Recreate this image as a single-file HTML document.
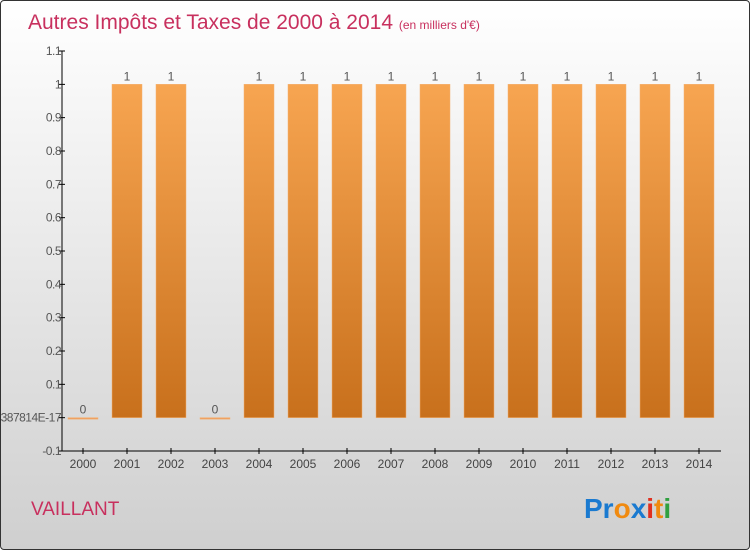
<!DOCTYPE html>
<html><head><meta charset="utf-8"><style>
body{margin:0;width:750px;height:550px;overflow:hidden;font-family:"Liberation Sans",sans-serif}
#frame{position:absolute;left:0;top:0;width:748px;height:548px;border:1px solid #333;border-radius:4px;background:linear-gradient(#ffffff,#cfcfcf);overflow:hidden}
</style></head><body>
<div id="frame">
<svg id="c" width="750" height="550">
<defs><linearGradient id="bg" x1="0" y1="0" x2="0" y2="1"><stop offset="0" stop-color="#f7a551"/><stop offset="1" stop-color="#c8701c"/></linearGradient></defs>
<text x="27" y="28" font-size="21" fill="#c8305e" style="font-weight:300">Autres Impôts et Taxes de 2000 à 2014 <tspan font-size="12">(en milliers d'€)</tspan></text>
<text x="30" y="514" font-size="19" fill="#c8305e">VAILLANT</text>
<text x="583" y="517" font-size="28" font-weight="bold"><tspan fill="#1a7ad0">Pr</tspan><tspan fill="#f08a10">o</tspan><tspan fill="#1a7ad0">x</tspan><tspan fill="#e03020">i</tspan><tspan fill="#f08a10">t</tspan><tspan fill="#30a040">i</tspan></text>
<g id="plot"></g>
</svg></div>
<script>
const categories=["2000","2001","2002","2003","2004","2005","2006","2007","2008","2009","2010","2011","2012","2013","2014"];
const values=[0,1,1,0,1,1,1,1,1,1,1,1,1,1,1];
const valueLabels=["0","1","1","0","1","1","1","1","1","1","1","1","1","1","1"];
const yTicks=[1.1,1,0.9,0.8,0.7,0.6,0.5,0.4,0.3,0.2,0.1,0,-0.1];
const yTickLabels=["1.1","1","0.9","0.8","0.7","0.6","0.5","0.4","0.3","0.2","0.1","-1.387814E-17","-0.1"];
const ns="http://www.w3.org/2000/svg",g=document.getElementById('plot');
const y=v=>50+(1.1-v)*400/1.2, x=i=>82+i*44;
function mk(t,a){const e=document.createElementNS(ns,t);for(const k in a)e.setAttribute(k,a[k]);g.appendChild(e);return e;}
let e=mk('line',{x1:61,y1:50,x2:61,y2:450,stroke:'#000'});


e=mk('line',{x1:61,y1:450,x2:720,y2:450,stroke:'#000'});


yTicks.forEach((v,i)=>{mk('line',{x1:58,x2:64,y1:y(v),y2:y(v),stroke:'#000'});
 const t=mk('text',{x:60,y:y(v)+4,'text-anchor':'end','font-size':12,fill:'#555','letter-spacing':'-0.5'});t.textContent=yTickLabels[i];
 
 });
categories.forEach((c,i)=>{const cx=x(i);
 mk('line',{x1:cx,x2:cx,y1:447,y2:453,stroke:'#000'});
 const t=mk('text',{x:cx,y:467,'text-anchor':'middle','font-size':12,fill:'#444'});t.textContent=c;
 
 
 const v=values[i],top=y(Math.max(v,0)),h=Math.abs(y(v)-y(0));
 const r=mk('rect',{x:cx-15,y:top,width:30,height:Math.max(h,1.5),fill:v?'url(#bg)':'#f0a060',stroke:'#f4b070','stroke-width':0.5});
 
 
 const l=mk('text',{x:cx,y:top-4,'text-anchor':'middle','font-size':12,fill:'#555'});l.textContent=valueLabels[i];
 
 });
</script>
</body></html>
